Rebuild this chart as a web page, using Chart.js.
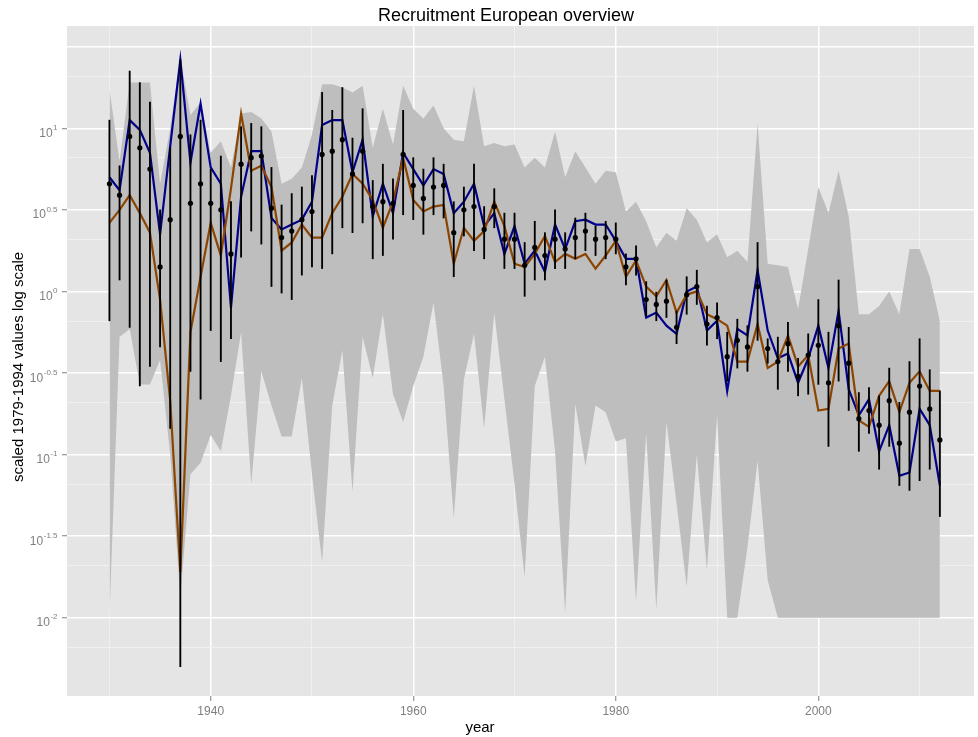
<!DOCTYPE html>
<html>
<head>
<meta charset="utf-8">
<title>Recruitment European overview</title>
<script src="https://cdn.jsdelivr.net/npm/chart.js@4.4.1/dist/chart.umd.min.js"></script>
<style>
  html, body { margin: 0; padding: 0; background: #ffffff; }
  #wrap { width: 978px; height: 737px; }
</style>
</head>
<body>
<div id="wrap"><canvas id="recruitChart" width="978" height="737"></canvas></div>
<script>

/***************************************************/
/********************** DATA ***********************/
/***************************************************/
// all values are log10 of the scaled recruitment index

const years = [
    1930, 1931, 1932, 1933, 1934, 1935, 1936, 1937, 1938, 1939,
    1940, 1941, 1942, 1943, 1944, 1945, 1946, 1947, 1948, 1949,
    1950, 1951, 1952, 1953, 1954, 1955, 1956, 1957, 1958, 1959,
    1960, 1961, 1962, 1963, 1964, 1965, 1966, 1967, 1968, 1969,
    1970, 1971, 1972, 1973, 1974, 1975, 1976, 1977, 1978, 1979,
    1980, 1981, 1982, 1983, 1984, 1985, 1986, 1987, 1988, 1989,
    1990, 1991, 1992, 1993, 1994, 1995, 1996, 1997, 1998, 1999,
    2000, 2001, 2002, 2003, 2004, 2005, 2006, 2007, 2008, 2009, 2010, 2011, 2012
];

// grey band: max / min over the individual series
const bandHigh = [
    1.24, 0.80, 1.28, 1.28, 1.28, 0.66, 1.00, 1.43, 1.08, 1.16,
    0.85, 0.92, 0.76, 1.09, 1.10, 1.06, 0.98, 0.66, 0.69, 0.76,
    0.96, 1.27, 1.27, 1.25, 1.22, 1.26, 0.88, 1.12, 0.90, 1.26,
    1.12, 1.06, 1.14, 1.00, 0.93, 0.92, 1.26, 0.89, 0.91, 0.89,
    0.90, 0.76, 0.82, 0.76, 0.98, 0.70, 0.86, 0.76, 0.66, 0.74,
    0.73, 0.49, 0.55, 0.43, 0.27, 0.36, 0.31, 0.51, 0.44, 0.30,
    0.35, 0.21, 0.25, 0.18, 1.03, 0.17, 0.16, 0.15, -0.11, 0.26,
    0.64, 0.48, 0.74, 0.46, -0.14, -0.14, -0.09, 0.00, -0.14, 0.26, 0.26, 0.09, -0.18
];
const bandLow = [
    -2.00, -0.28, -0.23, -0.57, -0.57, -0.42, -1.00, -1.87, -1.12, -1.05,
    -0.88, -0.98, -0.64, -0.25, -1.18, -0.49, -0.70, -0.89, -0.89, -0.53,
    -1.12, -1.66, -0.70, -0.36, -1.23, -0.28, -0.53, -0.14, -0.63, -0.80,
    -0.58, -0.40, -0.07, -0.58, -1.39, -0.54, -0.26, -0.84, -0.13, -0.66,
    -1.18, -1.75, -0.58, -0.40, -0.98, -1.97, -0.69, -1.07, -0.70, -0.74,
    -0.92, -0.90, -1.90, -0.87, -1.95, -0.80, -1.30, -1.81, -1.00, -1.71,
    -0.76, -2.00, -2.00, -1.57, -1.04, -1.77, -2.00, -2.00, -2.00, -2.00,
    -2.00, -2.00, -2.00, -2.00, -2.00, -2.00, -2.00, -2.00, -2.00, -2.00, -2.00, -2.00, -2.00
];

// overall index with its interval
const indexMean = [
    0.66, 0.59, 0.95, 0.88, 0.75, 0.15, 0.44, 0.95, 0.54, 0.66,
    0.54, 0.50, 0.23, 0.78, 0.82, 0.83, 0.51, 0.33, 0.37, 0.44,
    0.49, 0.84, 0.86, 0.93, 0.72, 0.86, 0.52, 0.55, 0.54, 0.84,
    0.65, 0.57, 0.64, 0.65, 0.36, 0.50, 0.52, 0.38, 0.52, 0.32,
    0.32, 0.16, 0.27, 0.22, 0.32, 0.26, 0.33, 0.37, 0.32, 0.33,
    0.32, 0.15, 0.20, -0.05, -0.08, -0.06, -0.22, -0.02, 0.03, -0.20,
    -0.16, -0.40, -0.30, -0.34, 0.03, -0.35, -0.43, -0.32, -0.52, -0.39,
    -0.33, -0.56, -0.21, -0.44, -0.78, -0.73, -0.82, -0.67, -0.93, -0.74, -0.58, -0.72, -0.91
];
const indexHigh = [
    1.05, 0.77, 1.35, 1.28, 1.16, 0.50, 0.88, 1.42, 0.96, 1.05,
    0.75, 0.83, 0.55, 1.01, 1.03, 1.01, 0.76, 0.53, 0.60, 0.64,
    0.71, 1.22, 1.11, 1.25, 0.94, 1.12, 0.68, 0.78, 0.69, 1.11,
    0.82, 0.75, 0.82, 0.78, 0.55, 0.64, 0.78, 0.52, 0.63, 0.48,
    0.48, 0.30, 0.43, 0.36, 0.50, 0.36, 0.45, 0.48, 0.40, 0.43,
    0.42, 0.23, 0.28, 0.06, 0.00, 0.07, -0.12, 0.09, 0.13, -0.09,
    -0.07, -0.25, -0.17, -0.21, 0.30, -0.29, -0.28, -0.19, -0.41, -0.26,
    -0.05, -0.25, 0.07, -0.22, -0.62, -0.59, -0.64, -0.47, -0.68, -0.43, -0.29, -0.48, -0.61
];
const indexLow = [
    -0.18, 0.07, -0.22, -0.58, -0.46, -0.34, -0.84, -2.30, -0.49, -0.66,
    -0.24, -0.43, -0.29, 0.21, 0.37, 0.29, 0.03, -0.01, -0.05, 0.10,
    0.15, 0.14, 0.23, 0.39, 0.36, 0.42, 0.20, 0.22, 0.32, 0.47,
    0.44, 0.35, 0.47, 0.45, 0.09, 0.34, 0.25, 0.20, 0.39, 0.14,
    0.14, -0.03, 0.07, 0.07, 0.14, 0.14, 0.20, 0.25, 0.22, 0.20,
    0.23, 0.04, 0.10, -0.15, -0.18, -0.16, -0.32, -0.14, -0.08, -0.33,
    -0.29, -0.55, -0.47, -0.49, -0.30, -0.44, -0.60, -0.49, -0.64, -0.63,
    -0.57, -0.95, -0.55, -0.73, -0.98, -0.87, -1.09, -0.95, -1.19, -1.22, -1.16, -1.09, -1.38
];

// two model fits
const blueFit = [
    0.70, 0.62, 1.05, 0.99, 0.85, 0.35, 0.89, 1.42, 0.79, 1.15,
    0.76, 0.66, -0.10, 0.58, 0.86, 0.86, 0.45, 0.38, 0.41, 0.44,
    0.55, 1.02, 1.05, 1.05, 0.73, 0.93, 0.46, 0.66, 0.48, 0.85,
    0.75, 0.65, 0.75, 0.72, 0.48, 0.55, 0.66, 0.40, 0.48, 0.23,
    0.40, 0.17, 0.25, 0.12, 0.41, 0.26, 0.43, 0.44, 0.41, 0.41,
    0.31, 0.20, 0.20, -0.16, -0.13, -0.21, -0.26, 0.00, 0.03, -0.24,
    -0.18, -0.61, -0.23, -0.27, 0.13, -0.24, -0.41, -0.38, -0.56, -0.41,
    -0.21, -0.47, -0.12, -0.60, -0.76, -0.66, -0.98, -0.82, -1.13, -1.11, -0.72, -0.82, -1.19
];
const brownFit = [
    0.42, 0.50, 0.59, 0.48, 0.36, -0.05, -0.67, -1.72, -0.25, 0.09,
    0.42, 0.22, 0.63, 1.09, 0.74, 0.77, 0.64, 0.25, 0.30, 0.41,
    0.33, 0.33, 0.48, 0.58, 0.72, 0.66, 0.56, 0.39, 0.55, 0.82,
    0.56, 0.49, 0.52, 0.53, 0.17, 0.39, 0.31, 0.37, 0.55, 0.40,
    0.17, 0.15, 0.23, 0.34, 0.18, 0.23, 0.20, 0.23, 0.14, 0.22,
    0.31, 0.09, 0.19, 0.03, -0.03, 0.07, -0.13, -0.02, 0.00, -0.14,
    -0.17, -0.21, -0.43, -0.43, -0.20, -0.47, -0.43, -0.27, -0.46, -0.39,
    -0.73, -0.72, -0.35, -0.32, -0.79, -0.83, -0.64, -0.55, -0.74, -0.56, -0.49, -0.61, -0.61
];

// axis breaks
const xMajorTicks = [1940, 1960, 1980, 2000];
const xMinorTicks = [1930, 1950, 1970, 1990, 2010];
const yMajorTicks = [-2, -1.5, -1, -0.5, 0, 0.5, 1, 1.5];
const yLabelValues = [1, 0.5, 0, -0.5, -1, -1.5, -2];
const yLabelExponents = ['1', '0.5', '0', '-0.5', '-1', '-1.5', '-2'];


/***************************************************/
/******************** COLOURS **********************/
/***************************************************/
const panelGrey = '#e5e5e5';
const minorGrid = '#f2f2f2';
const bandGrey = '#bebebe';
const axisTextGrey = '#7f7f7f';
const blueColor = '#00008b';
const brownColor = '#8b4500';
const fontFamily = '"Liberation Sans", Arial, sans-serif';


/***************************************************/
/******************** HELPERS **********************/
/***************************************************/
function toPoints(values) {
    return years.map((yr, i) => ({ x: yr, y: values[i] }));
}

// ggplot puts minor breaks halfway between majors in linear units
function yMinorTicks() {
    const out = [];
    for (let i = 0; i < yMajorTicks.length - 1; i++) {
        const a = Math.pow(10, yMajorTicks[i]);
        const b = Math.pow(10, yMajorTicks[i + 1]);
        out.push(Math.log10((a + b) / 2));
    }
    out.unshift(Math.log10((Math.pow(10, -2.5) + Math.pow(10, -2)) / 2));
    return out;
}

function isMajor(list, tick) {
    return tick && list.some(v => Math.abs(v - tick.value) < 1e-6);
}


/***************************************************/
/******************** PLUGIN ***********************/
/***************************************************/
const panelPlugin = {
    id: 'panelPlugin',
    beforeDraw(chart) {
        const { ctx, chartArea: a } = chart;
        ctx.save();
        ctx.fillStyle = '#ffffff';
        ctx.fillRect(0, 0, chart.width, chart.height);
        ctx.fillStyle = panelGrey;
        ctx.fillRect(a.left, a.top, a.right - a.left, a.bottom - a.top);
        ctx.restore();
    },
    afterDraw(chart) {
        const { ctx } = chart;
        const yScale = chart.scales.y;
        ctx.save();

        // y tick labels written as 10^x
        ctx.fillStyle = axisTextGrey;
        ctx.textAlign = 'right';
        ctx.textBaseline = 'alphabetic';
        yLabelValues.forEach((v, i) => {
            const py = yScale.getPixelForValue(v);
            ctx.font = '8px ' + fontFamily;
            const expWidth = ctx.measureText(yLabelExponents[i]).width;
            ctx.fillText(yLabelExponents[i], 57.5, py + 1.8);
            ctx.font = '12px ' + fontFamily;
            ctx.fillText('10', 57.5 - expWidth - 0.5, py + 8.6);
        });

        // titles
        ctx.fillStyle = '#000000';
        ctx.textAlign = 'center';
        ctx.textBaseline = 'middle';
        ctx.font = '18px ' + fontFamily;
        ctx.fillText('Recruitment European overview', 506, 16);
        ctx.font = '15px ' + fontFamily;
        ctx.fillText('year', 480, 728);
        ctx.translate(19, 367);
        ctx.rotate(-Math.PI / 2);
        ctx.fillText('scaled 1979-1994 values log scale', 0, 0);
        ctx.restore();
    }
};


/***************************************************/
/********************* CHART ***********************/
/***************************************************/
function drawRecruitChart(chartId) {

    var data = {
        datasets: [{
            label: 'band low',
            data: toPoints(bandLow),
            borderWidth: 0,
            pointRadius: 0,
            fill: false,
            order: 10
        }, {
            label: 'band high',
            data: toPoints(bandHigh),
            borderWidth: 0,
            pointRadius: 0,
            backgroundColor: bandGrey,
            fill: '-1',
            order: 9
        }, {
            label: 'blue fit',
            data: toPoints(blueFit),
            borderColor: blueColor,
            borderWidth: 2.2,
            pointRadius: 0,
            fill: false,
            order: 5
        }, {
            label: 'brown fit',
            data: toPoints(brownFit),
            borderColor: brownColor,
            borderWidth: 2.2,
            pointRadius: 0,
            fill: false,
            order: 4
        }, {
            type: 'bar',
            label: 'interval',
            data: years.map((yr, i) => ({ x: yr, y: [indexLow[i], indexHigh[i]] })),
            backgroundColor: '#000000',
            borderWidth: 0,
            barThickness: 1.2,
            grouped: false,
            order: 2
        }, {
            label: 'index',
            data: toPoints(indexMean),
            showLine: false,
            pointRadius: 2.6,
            pointBorderWidth: 0,
            pointBackgroundColor: '#000000',
            order: 1
        }]
    };

    var options = {
        responsive: false,
        animation: false,
        devicePixelRatio: 1,
        layout: { padding: { top: 26, left: 0, right: 0, bottom: 0 } },
        elements: { line: { tension: 0 } },
        plugins: {
            legend: { display: false },
            title: { display: false },
            tooltip: { enabled: false }
        },
        scales: {
            x: {
                type: 'linear',
                min: 1925.81,
                max: 2015.37,
                offset: false,
                afterBuildTicks: (axis) => {
                    axis.ticks = xMinorTicks.concat(xMajorTicks).sort((a, b) => a - b).map(v => ({ value: v }));
                },
                afterFit: (scale) => { scale.height = 41; },
                grid: {
                    offset: false,
                    color: (c) => isMajor(xMajorTicks, c.tick) ? '#ffffff' : minorGrid,
                    lineWidth: (c) => isMajor(xMajorTicks, c.tick) ? 1.5 : 0.8,
                    drawTicks: true,
                    tickLength: 5,
                    tickWidth: 1,
                    tickColor: (c) => isMajor(xMajorTicks, c.tick) ? axisTextGrey : 'rgba(0,0,0,0)'
                },
                border: { display: false },
                ticks: {
                    autoSkip: false,
                    maxRotation: 0,
                    padding: 3,
                    color: axisTextGrey,
                    font: { family: fontFamily, size: 12 },
                    callback: (v) => xMajorTicks.includes(v) ? String(v) : ''
                }
            },
            y: {
                type: 'linear',
                min: -2.48,
                max: 1.627,
                beginAtZero: false,
                afterBuildTicks: (axis) => {
                    axis.ticks = yMinorTicks().concat(yMajorTicks).sort((a, b) => a - b).map(v => ({ value: v }));
                },
                afterFit: (scale) => { scale.width = 67; },
                grid: {
                    color: (c) => isMajor(yMajorTicks, c.tick) ? '#ffffff' : minorGrid,
                    lineWidth: (c) => isMajor(yMajorTicks, c.tick) ? 1.5 : 0.8,
                    drawTicks: true,
                    tickLength: 5,
                    tickWidth: 1,
                    tickColor: (c) => isMajor(yLabelValues, c.tick) ? axisTextGrey : 'rgba(0,0,0,0)'
                },
                border: { display: false },
                ticks: { display: false }
            }
        }
    };

    const ctx = document.getElementById(chartId).getContext('2d');
    const recruitChart = new Chart(ctx, {
        type: 'line',
        data: data,
        options: options,
        plugins: [panelPlugin]
    });
}

drawRecruitChart('recruitChart');
</script>
</body>
</html>
